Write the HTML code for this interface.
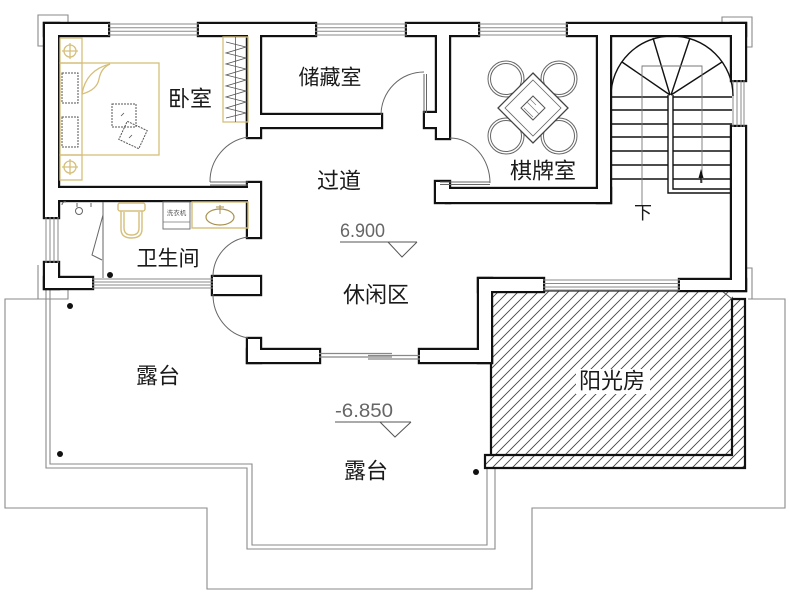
<!DOCTYPE html>
<html><head><meta charset="utf-8"><style>
html,body{margin:0;padding:0;background:#fff}
svg{display:block}
.cn{font-family:"Liberation Sans","Noto Sans CJK SC","WenQuanYi Zen Hei",sans-serif;fill:#1a1a1a}
.num{font-family:"Liberation Sans",sans-serif;fill:#666}
</style></head><body>
<svg width="789" height="605" viewBox="0 0 789 605" xmlns="http://www.w3.org/2000/svg">
<defs>
<pattern id="h" patternUnits="userSpaceOnUse" width="10" height="10">
<path d="M-2,2 L2,-2 M0,10 L10,0 M8,12 L12,8" stroke="#444" stroke-width="0.9"/>
</pattern>
</defs>
<rect width="789" height="605" fill="#fff"/>

<!-- terrace outlines -->
<g fill="none" stroke="#8a8a8a" stroke-width="1.1">
<polyline points="68,288 68,299 5,299 5,508 207,508 207,589 532,589 532,508 785,508 785,299 748,299"/>
<polyline points="46,290 46,468 247,468 247,549 495,549 495,468"/>
<polyline points="50,290 50,464 252,464 252,545 487,545 487,468"/>
<polyline points="45,46 38,46 38,15 68,15 68,24"/>
<polyline points="722,24 722,17 752,17 752,47 745,47"/>
<line x1="38" y1="265" x2="38" y2="299"/>
<polyline points="745,268 752,268 752,299"/>
</g>

<!-- sunroom -->
<rect x="491" y="291" width="242" height="164" fill="url(#h)"/>
<polygon points="485,455 732,455 732,299 745,299 745,468 485,468" fill="url(#h)" stroke="#111" stroke-width="2.2"/>
<line x1="491" y1="291" x2="491" y2="455" stroke="#111" stroke-width="2.2"/>
<line x1="491" y1="291" x2="724" y2="291" stroke="#333" stroke-width="1.2"/>
<polyline points="722,291 732,299" fill="none" stroke="#555" stroke-width="1"/>
<rect x="576" y="369" width="74" height="25" fill="#fff"/>

<!-- walls: outline pass -->
<g fill="#111" stroke="#111" stroke-width="4.4" stroke-linejoin="miter">
<rect x="45" y="24" width="63" height="11"/>
<rect x="45" y="24" width="13" height="193"/>
<rect x="199" y="24" width="116" height="11"/>
<rect x="407" y="24" width="71" height="11"/>
<rect x="568" y="24" width="177" height="11"/>
<rect x="732" y="24" width="13" height="56"/>
<rect x="732" y="127" width="13" height="163"/>
<rect x="680" y="280" width="65" height="10"/>
<rect x="248" y="30" width="12" height="107"/>
<rect x="248" y="115" width="133" height="12"/>
<rect x="425" y="113" width="13" height="14"/>
<rect x="437" y="30" width="12" height="108"/>
<rect x="598" y="30" width="12" height="172"/>
<rect x="447" y="189" width="163" height="13"/>
<rect x="436" y="182" width="13" height="20"/>
<rect x="50" y="188" width="199" height="12"/>
<rect x="248" y="183" width="12" height="54"/>
<rect x="45" y="263" width="13" height="25"/>
<rect x="45" y="278" width="47" height="10"/>
<rect x="213" y="277" width="47" height="17"/>
<rect x="248" y="339" width="12" height="23"/>
<rect x="248" y="350" width="71" height="12"/>
<rect x="420" y="350" width="71" height="12"/>
<rect x="479" y="279" width="12" height="83"/>
<rect x="479" y="279" width="64" height="12"/>
</g>
<!-- walls: fill pass -->
<g fill="#fff">
<rect x="45" y="24" width="63" height="11"/>
<rect x="45" y="24" width="13" height="193"/>
<rect x="199" y="24" width="116" height="11"/>
<rect x="407" y="24" width="71" height="11"/>
<rect x="568" y="24" width="177" height="11"/>
<rect x="732" y="24" width="13" height="56"/>
<rect x="732" y="127" width="13" height="163"/>
<rect x="680" y="280" width="65" height="10"/>
<rect x="248" y="30" width="12" height="107"/>
<rect x="248" y="115" width="133" height="12"/>
<rect x="425" y="113" width="13" height="14"/>
<rect x="437" y="30" width="12" height="108"/>
<rect x="598" y="30" width="12" height="172"/>
<rect x="447" y="189" width="163" height="13"/>
<rect x="436" y="182" width="13" height="20"/>
<rect x="50" y="188" width="199" height="12"/>
<rect x="248" y="183" width="12" height="54"/>
<rect x="45" y="263" width="13" height="25"/>
<rect x="45" y="278" width="47" height="10"/>
<rect x="213" y="277" width="47" height="17"/>
<rect x="248" y="339" width="12" height="23"/>
<rect x="248" y="350" width="71" height="12"/>
<rect x="420" y="350" width="71" height="12"/>
<rect x="479" y="279" width="12" height="83"/>
<rect x="479" y="279" width="64" height="12"/>
</g>

<!-- windows -->
<g stroke="#8a8a8a" stroke-width="1" fill="none">
<path d="M108,24H199M108,27.7H199M108,31.3H199M108,35H199"/>
<path d="M315,24H407M315,27.7H407M315,31.3H407M315,35H407"/>
<path d="M478,24H568M478,27.7H568M478,31.3H568M478,35H568"/>
<path d="M46,217V263M50,217V263M54,217V263M58,217V263"/>
<path d="M733,80V127M737,80V127M741,80V127M744,80V127"/>
<path d="M92,279H213M92,282H213M92,285H213M92,288H213"/>
<path d="M543,280H680M543,283.5H680M543,287H680M543,290H680"/>
<path d="M195,282H213M195,285H213M195,288H213"/>
</g>

<!-- doors -->
<g stroke="#666" stroke-width="1" fill="none">
<path d="M381,115 A43,43 0 0 1 424,72"/>
<path d="M424,74V113M426.5,74V113"/>
<path d="M248,137 A45,45 0 0 0 210,182"/>
<path d="M210,182H248M210,185H248"/>
<path d="M248,237 A40,40 0 0 0 213,277"/>
<path d="M213,294 A42,44 0 0 0 248,338"/>
<path d="M450,138 A40,45 0 0 1 490,183"/>
<path d="M440,182H490M440,184.5H490"/>
</g>
<!-- sliding door -->
<g stroke="#888" stroke-width="1.2" fill="none">
<path d="M319,353.5H392M319,357H392M368,355.5H420M368,359H420"/>
</g>

<!-- stairs -->
<g stroke="#111" stroke-width="1.4" fill="none">
<path d="M611,96 A61,60 0 0 1 733,96"/>
<path d="M670,95 L622,62 M670,95 L653,38 M671,95 L690,38 M671,95 L722,62"/>
<path d="M610,97H668M610,110H668M610,124H668M610,137H668M610,151H668M610,165H668M610,179H668"/>
<path d="M673,97H732M673,110H732M673,124H732M673,137H732M673,151H732M673,165H732M673,179H732"/>
<path d="M668,95V193H732M673,95V189H732"/>
</g>
<g stroke="#777" stroke-width="0.9" fill="none">
<polyline points="642,205 642,66 702,66 702,183"/>
</g>
<line x1="701" y1="172" x2="701" y2="183" stroke="#111" stroke-width="1.3"/>
<polygon points="698.5,178 703.5,178 701,169" fill="#111"/>

<!-- bedroom furniture -->
<g stroke="#d6bf7a" stroke-width="1.3" fill="none">
<rect x="60" y="38" width="22" height="25"/>
<rect x="60" y="155" width="22" height="25"/>
<rect x="60" y="63" width="99" height="92"/>
<line x1="82" y1="63" x2="82" y2="155"/>
<circle cx="70" cy="51" r="6"/>
<circle cx="70" cy="167" r="6"/>
<path d="M70,43V59M62,51H78M70,159V175M62,167H78"/>
<path d="M82,94 Q86,70 110,64"/>
<path d="M82,94 Q97,90 99,79 Q101,68 110,64"/>
<rect x="223" y="37" width="25" height="85"/>
</g>
<g stroke="#555" stroke-width="1" fill="none" stroke-dasharray="2 1">
<rect x="62" y="73" width="16" height="30"/>
<rect x="62" y="117" width="16" height="30"/>
<rect x="112" y="104" width="24" height="23"/>
<rect x="122" y="125" width="22" height="20" transform="rotate(25 133 135)"/>
</g>
<g stroke="#555" stroke-width="0.8" fill="none">
<path d="M121,116 l3,-3 M129,138 l3,-3"/>
<line x1="235.5" y1="37" x2="235.5" y2="122"/>
<polyline points="226,42 246,47 226,53 246,58 226,64 246,69 226,75 246,80 226,86 246,91 226,97 246,102 226,108 246,113 226,118"/>
</g>

<!-- bathroom fixtures -->
<g stroke="#d6bf7a" stroke-width="1.4" fill="none">
<rect x="118" y="203" width="27" height="8" rx="2"/>
<path d="M121,211 V229 Q121,238 131.5,238 Q142,238 142,229 V211"/>
<path d="M124,212 V228 Q124,235 131.5,235 Q139,235 139,228 V212"/>
<rect x="192" y="202" width="56" height="26"/>
</g>
<ellipse cx="220" cy="217" rx="14" ry="8" fill="none" stroke="#a8914f" stroke-width="1.2"/>
<path d="M220,205V214M216,207H224" stroke="#a8914f" stroke-width="1"/>
<rect x="163" y="202" width="27" height="27" fill="none" stroke="#777" stroke-width="1"/>
<line x1="163" y1="222" x2="190" y2="222" stroke="#777" stroke-width="0.8"/>
<text x="176.5" y="215" font-size="6.5" text-anchor="middle" class="cn" style="fill:#555">洗衣机</text>
<g stroke="#666" stroke-width="1" fill="none">
<line x1="103" y1="202" x2="103" y2="278"/>
<polyline points="103,215 92,255 102,260"/>
<circle cx="79" cy="211" r="3.5"/>
<path d="M77,203V207M91,203V207M62,205 a3,3 0 0 1 4,-3"/>
</g>

<!-- chess table -->
<g stroke="#666" stroke-width="1" fill="none">
<circle cx="506" cy="79" r="18"/><circle cx="506" cy="79" r="15.5"/>
<circle cx="559" cy="79" r="18"/><circle cx="559" cy="79" r="15.5"/>
<circle cx="506" cy="136" r="18"/><circle cx="506" cy="136" r="15.5"/>
<circle cx="559" cy="136" r="18"/><circle cx="559" cy="136" r="15.5"/>
</g>
<polygon points="533,73 568,108 533,143 498,108" fill="#fff" stroke="#444" stroke-width="1.3"/>
<polygon points="533,80 561,108 533,136 505,108" fill="none" stroke="#666" stroke-width="0.8"/>
<polygon points="533,96 545,108 533,120 521,108" fill="none" stroke="#555" stroke-width="1"/>
<path d="M527,102 l12,12 M530,99 l6,6 M524,108 l9,9" stroke="#777" stroke-width="0.7"/>

<!-- dots -->
<g fill="#111">
<circle cx="70" cy="306" r="3"/>
<circle cx="60" cy="454" r="3"/>
<circle cx="110" cy="275" r="3"/>
<circle cx="476" cy="472" r="3"/>
</g>

<!-- elevation marks -->
<g stroke="#555" stroke-width="1" fill="none">
<path d="M340,242H417 M388,242 L402,257 L417,242"/>
<path d="M335,422H411 M380,422 L395,437 L411,422"/>
</g>
<text class="num" x="340" y="237" font-size="19" textLength="45" lengthAdjust="spacingAndGlyphs">6.900</text>
<text class="num" x="335" y="417" font-size="19" textLength="58" lengthAdjust="spacingAndGlyphs">-6.850</text>

<!-- labels -->
<g class="cn" text-anchor="middle" dominant-baseline="central">
<text x="190" y="99" font-size="22">卧室</text>
<text x="168" y="259" font-size="21">卫生间</text>
<text x="330" y="78" font-size="21">储藏室</text>
<text x="339" y="181" font-size="22">过道</text>
<text x="376" y="295" font-size="22">休闲区</text>
<text x="543" y="171" font-size="22">棋牌室</text>
<text x="643" y="213" font-size="18">下</text>
<text x="158" y="376" font-size="22">露台</text>
<text x="366" y="471" font-size="22">露台</text>
<text x="612" y="381" font-size="22">阳光房</text>
</g>
</svg>
</body></html>
